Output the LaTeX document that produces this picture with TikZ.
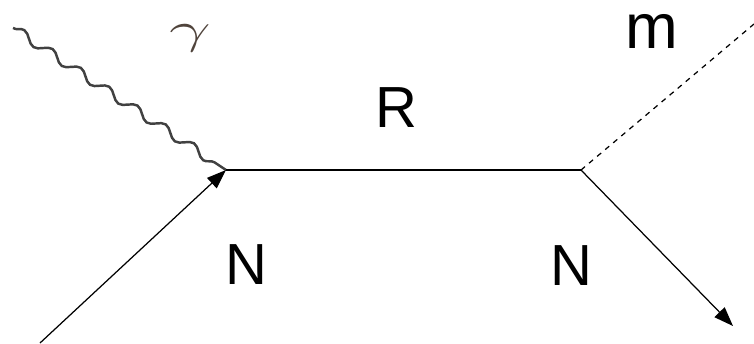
\documentclass[tikz,border=0pt]{standalone}
\usepackage{graphicx}
\usepackage{fontspec}
\setmainfont{Liberation Sans}
\usetikzlibrary{arrows.meta,decorations.pathmorphing}
\begin{document}
\begin{tikzpicture}[x=0.02cm,y=-0.02cm]
    \tikzset{
        fermion/.style={line width=0.7pt, -{Triangle[length=11pt,width=8pt]}},
        photon/.style={line width=1.4pt, color={rgb,255:red,65; green,65; blue,65}, decorate, decoration={snake, amplitude=0.09cm, segment length=0.68cm}},
        meson/.style={line width=0.7pt, dashed},
        lbl/.style={font=\fontsize{33}{40}\selectfont, inner sep=0pt}
    }
    \useasboundingbox (0,0) rectangle (754,343);
    \coordinate (vin) at (226,170);
    \coordinate (vout) at (581,170);
    \coordinate (nin) at (40,343);
    \coordinate (nout) at (733,326);
    \coordinate (gam) at (13,28);
    \coordinate (mes) at (754,24);
    \draw [photon] (gam) -- (vin);
    \draw [line width=0.7pt] (vin) -- (vout);
    \draw [fermion] (nin) -- (vin);
    \draw [fermion] (vout) -- (nout);
    \draw [meson] (vout) -- (mes);
    \node [lbl] (lblR) at (396,108) {R};
    \node [lbl] (lblN1) at (246,265) {N};
    \node [lbl] (lblN2) at (571,266) {N};
    \node [lbl, font=\fontsize{36}{44}\selectfont] (lblm) at (652,31) {m};
    \node [lbl, color={rgb,255:red,80; green,68; blue,60}] (lblg) at (190,38) {\scalebox{1.7}[1]{\fontsize{35}{42}\selectfont$\gamma$}};
\end{tikzpicture}
\end{document}
